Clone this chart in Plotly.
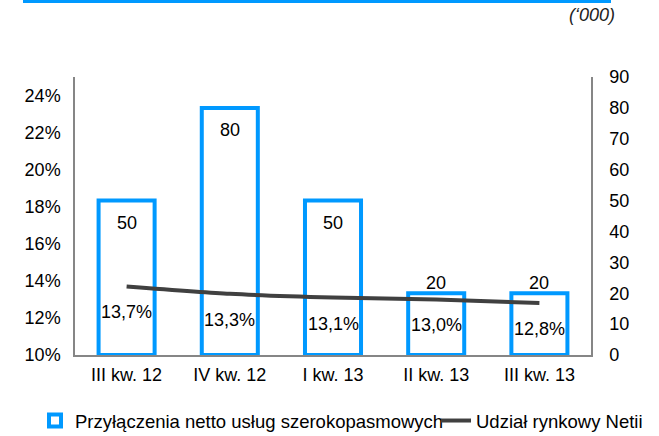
import plotly.graph_objects as go

categories = ["III kw. 12", "IV kw. 12", "I kw. 13", "II kw. 13", "III kw. 13"]
net_adds = [50, 80, 50, 20, 20]               # '000, right axis
market_share = [13.7, 13.3, 13.1, 13.0, 12.8]  # %, left axis
left_ticks = [10, 12, 14, 16, 18, 20, 22, 24]
left_ticktext = [f"{v}%" for v in left_ticks]
bar_name = "Przyłączenia netto usług szerokopasmowych"
line_name = "Udział rynkowy Netii"
unit_note = "(‘000)"

BLUE = "#0099FF"
DARK = "#404040"
AXIS = "#868686"
FONT = "Liberation Sans, Arial, sans-serif"
FS = 18
LFS = 18.5

W, H = 659, 436
L, T = 75, 77
R = W - 591
B = H - 355
PW, PH = W - L - R, H - T - B

def px_x(px):
    return (px - L) / PW

def px_y(py):
    return (H - B - py) / PH

fig = go.Figure()
fig.add_trace(go.Bar(
    x=categories, y=net_adds, name=bar_name, yaxis="y",
    marker=dict(color="white", line=dict(color=BLUE, width=4)),
    legend="legend", hoverinfo="skip",
))
fig.add_trace(go.Scatter(
    x=categories, y=market_share, name=line_name, yaxis="y2",
    mode="lines", line=dict(color=DARK, width=4, shape="spline", smoothing=0.6),
    legend="legend2", hoverinfo="skip",
))

annotations = []
for c, v in zip(categories, net_adds):
    inside = v >= 40
    annotations.append(dict(
        x=c, y=v, xref="x", yref="y", text=str(v), showarrow=False,
        yanchor="middle", yshift=-22 if inside else 10,
        font=dict(family=FONT, size=FS, color="black"),
    ))
for c, v in zip(categories, market_share):
    annotations.append(dict(
        x=c, y=v, xref="x", yref="y2", text=f"{v:.1f}%".replace(".", ","),
        showarrow=False, yanchor="middle", yshift=-26,
        font=dict(family=FONT, size=FS, color="black"),
    ))
annotations.append(dict(
    x=px_x(617), y=px_y(14.5), xref="paper", yref="paper", text=f"<i>{unit_note}</i>",
    showarrow=False, xanchor="right", yanchor="middle",
    font=dict(family=FONT, size=FS, color="#222222"),
))

INVIS = "rgba(0,0,0,0)"
fig.update_layout(
    width=W, height=H,
    margin=dict(l=L, r=R, t=T, b=B, autoexpand=False),
    paper_bgcolor="white", plot_bgcolor="white",
    font=dict(family=FONT, size=FS, color="black"),
    bargap=0.457,
    showlegend=True,
    xaxis=dict(
        showline=True, linecolor=AXIS, linewidth=1.5, showgrid=False,
        ticks="outside", ticklen=3, tickcolor=INVIS, tickfont=dict(size=FS),
    ),
    yaxis=dict(
        side="right", range=[0, 90], dtick=10, showline=True, linecolor=AXIS,
        linewidth=1.5, showgrid=False, zeroline=False,
        ticks="outside", ticklen=13, tickcolor=INVIS, tickfont=dict(size=FS),
    ),
    yaxis2=dict(
        side="left", overlaying="y", range=[10, 25], tickvals=left_ticks,
        ticktext=left_ticktext, showline=True, linecolor=AXIS, linewidth=1.5,
        showgrid=False, zeroline=False,
        ticks="outside", ticklen=9, tickcolor=INVIS, tickfont=dict(size=FS),
    ),
    legend=dict(
        orientation="h", x=px_x(35), xanchor="left", y=px_y(421), yanchor="middle",
        font=dict(family=FONT, size=LFS, color="black"), bgcolor=INVIS,
    ),
    legend2=dict(
        orientation="h", x=px_x(436), xanchor="left", y=px_y(421), yanchor="middle",
        font=dict(family=FONT, size=LFS, color="black"), bgcolor=INVIS,
    ),
    shapes=[dict(
        type="line", xref="paper", yref="paper",
        x0=px_x(23), x1=px_x(611), y0=px_y(1.5), y1=px_y(1.5),
        line=dict(color=BLUE, width=3),
    )],
    annotations=annotations,
)

# remove the browser's default 8px page margin so the figure fills the window
fig.write_html(
    "out.html",
    config={"displayModeBar": False},
    post_script="document.body.style.margin='0';document.body.style.overflow='hidden';",
)
